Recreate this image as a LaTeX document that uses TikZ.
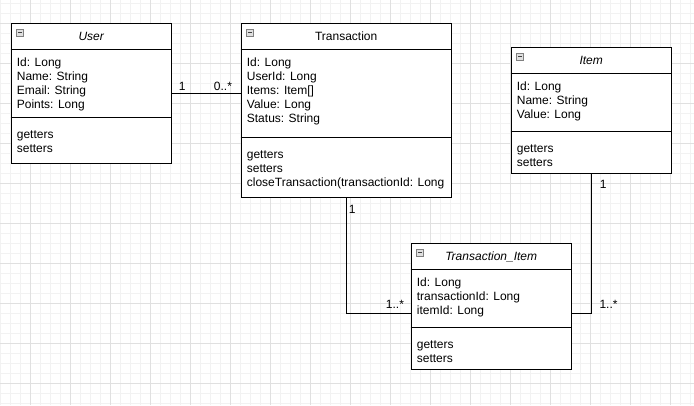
\documentclass[tikz,border=0pt]{standalone}
\usepackage{fontspec}
\setmainfont{Liberation Sans}
\usepackage{tikz}

\begin{document}
\begin{tikzpicture}[x=1pt, y=-1pt,
    classbox/.style={draw, line width=1pt, fill=white, anchor=north west, inner sep=0pt},
    classtitle/.style={anchor=base, inner sep=0pt, font=\fontsize{12}{14}\selectfont},
    members/.style={anchor=base west, align=left, inner sep=0pt, font=\fontsize{12}{14}\selectfont},
    mult/.style={inner sep=0pt, font=\fontsize{12}{14}\selectfont},
    assoc/.style={line width=1pt},
    minusicon/.style={draw=black!50, fill=black!12, line width=0.75pt, minimum size=7pt, inner sep=0pt, anchor=north west,
        path picture={\draw[line width=1pt, black!75] ([xshift=1.5pt]path picture bounding box.west) -- ([xshift=-1.5pt]path picture bounding box.east);}},
    minorline/.style={black!5, line width=0.75pt},
    majorline/.style={black!12, line width=0.75pt}]
    \fill[white] (0, 0) rectangle (694, 405);
    \useasboundingbox (0, 0) rectangle (694, 405);
    % grid
    \foreach \gx in {0,10,...,690} \draw[minorline] (\gx, 0) -- (\gx, 405);
    \foreach \gy in {3,13,...,403} \draw[minorline] (0, \gy) -- (694, \gy);
    \foreach \gx in {30,70,...,670} \draw[majorline] (\gx, 0) -- (\gx, 405);
    \foreach \gy in {23,63,...,383} \draw[majorline] (0, \gy) -- (694, \gy);

    % User
    \node[classbox, minimum width=160pt, minimum height=140pt] (user) at (10.7, 23.3) {};
    \draw ([yshift=-26pt]user.north west) -- ([yshift=-26pt]user.north east);
    \draw ([yshift=-94pt]user.north west) -- ([yshift=-94pt]user.north east);
    \node[minusicon] (usericon) at ([xshift=5.5pt, yshift=-5.5pt]user.north west) {};
    \node[classtitle] (usertitle) at ([yshift=-17.4pt]user.north) {\itshape User};
    % base of a multi-line node = its last line
    \node[members] (userattr) at ([xshift=6pt, yshift=-85.5pt]user.north west) {Id: Long\\Name: String\\Email: String\\Points: Long};
    \node[members] (usermeth) at ([xshift=6pt, yshift=-129pt]user.north west) {getters\\setters};

    % Transaction
    \node[classbox, minimum width=210pt, minimum height=174pt] (trans) at (240.7, 23.3) {};
    \draw ([yshift=-26pt]trans.north west) -- ([yshift=-26pt]trans.north east);
    \draw ([yshift=-114pt]trans.north west) -- ([yshift=-114pt]trans.north east);
    \node[minusicon] (transicon) at ([xshift=5.5pt, yshift=-5.5pt]trans.north west) {};
    \node[classtitle] (transtitle) at ([yshift=-17.4pt]trans.north) {Transaction};
    \node[members] (transattr) at ([xshift=6pt, yshift=-99.5pt]trans.north west) {Id: Long\\UserId: Long\\Items: Item[]\\Value: Long\\Status: String};
    \node[members] (transmeth) at ([xshift=6pt, yshift=-163pt]trans.north west) {getters\\setters\\closeTransaction(transactionId: Long};

    % Item
    \node[classbox, minimum width=160pt, minimum height=126pt] (item) at (510.7, 47.3) {};
    \draw ([yshift=-26pt]item.north west) -- ([yshift=-26pt]item.north east);
    \draw ([yshift=-84pt]item.north west) -- ([yshift=-84pt]item.north east);
    \node[minusicon] (itemicon) at ([xshift=5.5pt, yshift=-5.5pt]item.north west) {};
    \node[classtitle] (itemtitle) at ([yshift=-17.4pt]item.north) {\itshape Item};
    \node[members] (itemattr) at ([xshift=6pt, yshift=-71.5pt]item.north west) {Id: Long\\Name: String\\Value: Long};
    \node[members] (itemmeth) at ([xshift=6pt, yshift=-119pt]item.north west) {getters\\setters};

    % Transaction_Item
    \node[classbox, minimum width=160pt, minimum height=126pt] (ti) at (410.7, 243.3) {};
    \draw ([yshift=-26pt]ti.north west) -- ([yshift=-26pt]ti.north east);
    \draw ([yshift=-84pt]ti.north west) -- ([yshift=-84pt]ti.north east);
    \node[minusicon] (tiicon) at ([xshift=5.5pt, yshift=-5.5pt]ti.north west) {};
    \node[classtitle] (tititle) at ([yshift=-17.4pt]ti.north) {\itshape Transaction\_Item};
    \node[members] (tiattr) at ([xshift=6pt, yshift=-71.5pt]ti.north west) {Id: Long\\transactionId: Long\\itemId: Long};
    \node[members] (timeth) at ([xshift=6pt, yshift=-119pt]ti.north west) {getters\\setters};

    % associations
    \draw[assoc] (user.east) -- (user.east -| trans.west);
    \node[mult, anchor=base west] (userone) at ([xshift=7pt, yshift=3.3pt]user.east) {1};
    \node[mult, anchor=base east] (transmany) at ([xshift=-8.5pt, yshift=3.3pt]user.east -| trans.west) {0..*};

    \draw[assoc] (trans.south) |- ([yshift=-7pt]ti.west);
    \node[mult, anchor=base west] (transone) at ([xshift=2.5pt, yshift=-14.7pt]trans.south) {1};
    \node[mult, anchor=base east] (timanyl) at ([xshift=-6.5pt, yshift=-2pt]ti.west) {1..*};

    \draw[assoc] (item.south) |- ([yshift=-7pt]ti.east);
    \node[mult, anchor=base west] (itemone) at ([xshift=8.5pt, yshift=-14pt]item.south) {1};
    \node[mult, anchor=base west] (timanyr) at ([xshift=27.6pt, yshift=-2pt]ti.east) {1..*};
\end{tikzpicture}
\end{document}
